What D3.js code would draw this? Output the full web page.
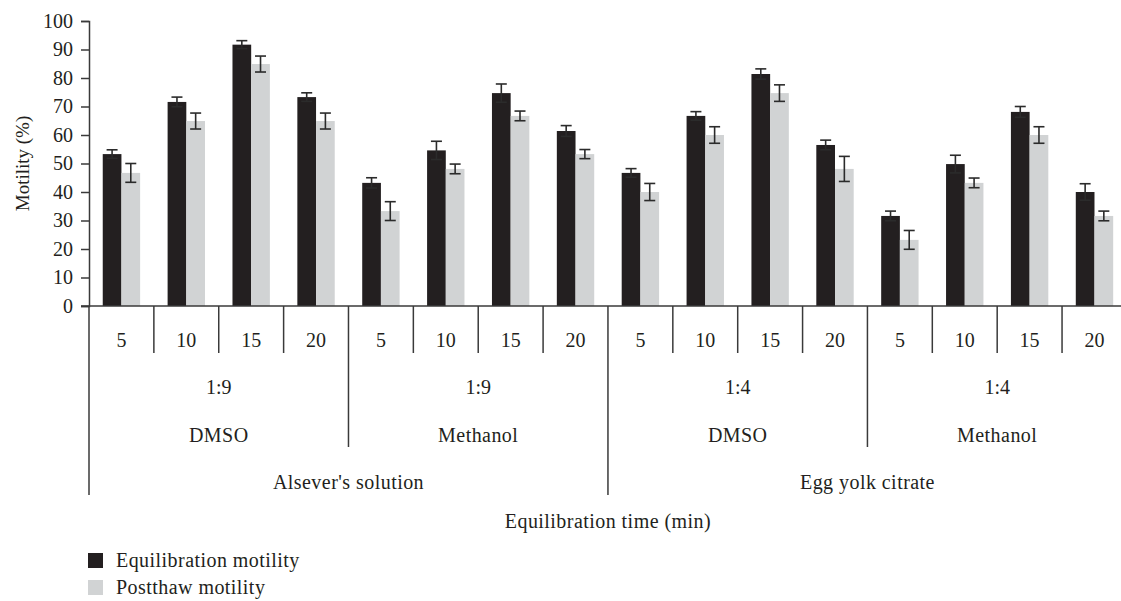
<!DOCTYPE html>
<html>
<head>
<meta charset="utf-8">
<script src="https://cdn.jsdelivr.net/npm/d3@7"></script>
<style>
  html, body { margin: 0; padding: 0; background: #fff; }
  svg { display: block; }
  text { font-family: "Liberation Serif", "Times New Roman", serif; fill: #231f20; }
  .words { letter-spacing: 0.45px; }
</style>
</head>
<body>
<svg id="chart" width="1121" height="601"></svg>
<script>
// ---- data ----
const times = ["5","10","15","20","5","10","15","20","5","10","15","20","5","10","15","20"];
const ratios = ["1:9","1:9","1:4","1:4"];
const cryos = ["DMSO","Methanol","DMSO","Methanol"];
const extenders = ["Alsever's solution","Egg yolk citrate"];
const seriesNames = ["Equilibration motility","Postthaw motility"];
const equilibration = [53.3,71.6,91.7,73.3, 43.2,54.6,74.7,61.4, 46.7,66.7,81.4,56.5, 31.6,49.8,68.1,40.0];
const equilibrationErr = [1.5,1.7,1.4,1.5, 1.8,3.2,3.2,1.9, 1.5,1.5,1.8,1.7, 1.7,3.1,1.9,2.9];
const postthaw = [46.7,64.9,84.9,64.9, 33.3,48.1,66.7,53.3, 40.0,60.0,74.7,48.1, 23.2,43.2,60.0,31.6];
const postthawErr = [3.3,2.8,2.8,2.8, 3.3,1.7,1.7,1.6, 3.0,2.9,2.9,4.4, 3.3,1.7,2.9,1.7];
const yTicks = [0,10,20,30,40,50,60,70,80,90,100];

// ---- layout ----
const colors = ["#231f20", "#d1d3d4"];
const axisColor = "#3a3a3a";
const fs = 20;
const x0 = 89, step = 64.87;
const yTop = 21, yBase = 306;

const svg = d3.select("#chart");
const idx = d3.range(times.length);

const x = d3.scaleBand().domain(idx).range([x0, x0 + step * idx.length]).paddingInner(0).paddingOuter(0);
const xs = d3.scaleBand().domain([0,1]).range([0, x.bandwidth()]).paddingInner(0).paddingOuter(0.735);
const y = d3.scaleLinear().domain([0,100]).range([yBase, yTop]);

const rows = idx.map(i => ({i, vals: [
  {s:0, v: equilibration[i], e: equilibrationErr[i]},
  {s:1, v: postthaw[i], e: postthawErr[i]}
]}));

// bars
const g = svg.append("g");
const cat = g.selectAll("g.cat").data(rows).join("g").attr("transform", d => `translate(${x(d.i)},0)`);
cat.selectAll("rect").data(d => d.vals).join("rect")
  .attr("x", d => xs(d.s)).attr("width", xs.bandwidth())
  .attr("y", d => y(d.v)).attr("height", d => y(0) - y(d.v))
  .attr("fill", d => colors[d.s]);

// error bars
const eb = cat.selectAll("g.err").data(d => d.vals).join("g")
  .attr("transform", d => `translate(${xs(d.s) + xs.bandwidth()/2},0)`)
  .attr("stroke", "#2b2b2b").attr("stroke-width", 1.6);
eb.append("line").attr("x1",0).attr("x2",0).attr("y1", d => y(d.v + d.e)).attr("y2", d => y(d.v - d.e));
eb.append("line").attr("x1",-5.5).attr("x2",5.5).attr("y1", d => y(d.v + d.e)).attr("y2", d => y(d.v + d.e));
eb.append("line").attr("x1",-5.5).attr("x2",5.5).attr("y1", d => y(d.v - d.e)).attr("y2", d => y(d.v - d.e));

// y axis
const yAxis = d3.axisLeft(y).tickValues(yTicks).tickSize(8).tickPadding(8).tickFormat(d3.format("d"));
const ya = svg.append("g").attr("transform", `translate(${x0},0)`).call(yAxis);
ya.select(".domain").attr("stroke", axisColor).attr("stroke-width", 1.5);
ya.selectAll(".tick line").attr("stroke", axisColor).attr("stroke-width", 1.5);
ya.selectAll(".tick text").style("font-size", fs + "px").style("font-family", '"Liberation Serif", serif').attr("fill", "#231f20");

// baseline
svg.append("line").attr("x1", x0 - 8).attr("x2", 1121).attr("y1", yBase).attr("y2", yBase)
  .attr("stroke", axisColor).attr("stroke-width", 1.5);

// multi-level category axis
const lines = svg.append("g").attr("stroke", axisColor).attr("stroke-width", 1.5);
const xEnd = x0 + step * idx.length;
idx.concat([idx.length]).forEach(i => {
  const xx = i < idx.length ? x(i) : xEnd;
  let y2 = 353;
  if (i % 4 === 0) y2 = 447;
  if (i % 8 === 0) y2 = 495;
  lines.append("line").attr("x1", xx).attr("x2", xx).attr("y1", yBase).attr("y2", y2);
});

const labels = svg.append("g").style("font-size", fs + "px").attr("text-anchor", "middle");
labels.selectAll("text.t").data(idx).join("text")
  .attr("x", i => x(i) + x.bandwidth()/2).attr("y", 340).attr("dy", "0.35em").text(i => times[i]);
labels.selectAll("text.r").data(ratios).join("text")
  .attr("x", (d,k) => x(k*4) + 2*step).attr("y", 387).attr("dy", "0.35em").text(d => d);
labels.selectAll("text.c").data(cryos).join("text").attr("class", "words")
  .attr("x", (d,k) => x(k*4) + 2*step).attr("y", 435).attr("dy", "0.35em").text(d => d);
labels.selectAll("text.e").data(extenders).join("text").attr("class", "words")
  .attr("x", (d,k) => x(k*8) + 4*step).attr("y", 482).attr("dy", "0.35em").text(d => d);

// axis titles
svg.append("text").attr("class", "words").attr("x", (x0 + xEnd)/2).attr("y", 521).attr("dy", "0.35em")
  .attr("text-anchor", "middle").style("font-size", fs + "px").text("Equilibration time (min)");
svg.append("text").attr("transform", `translate(22,${(yTop + yBase)/2}) rotate(-90)`)
  .attr("dy", "0.35em").attr("text-anchor", "middle").style("font-size", "19px").text("Motility (%)");

// legend
const leg = svg.append("g");
seriesNames.forEach((name, k) => {
  const ly = 560 + k * 27;
  leg.append("rect").attr("x", 88).attr("y", ly - 7).attr("width", 15).attr("height", 15).attr("fill", colors[k]);
  leg.append("text").attr("class", "words").attr("x", 116).attr("y", ly).attr("dy", "0.35em").style("font-size", fs + "px").text(name);
});
</script>
</body>
</html>
